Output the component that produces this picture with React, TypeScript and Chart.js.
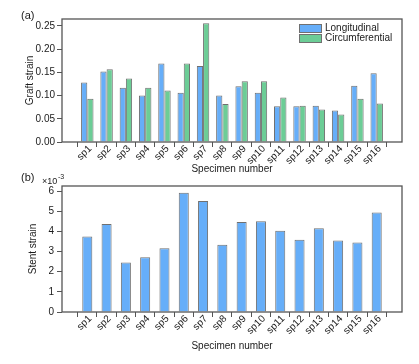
import React, { useEffect, useRef } from "react";
import { Chart, registerables } from "chart.js";

Chart.register(...registerables);

const categories = [
  "sp1", "sp2", "sp3", "sp4", "sp5", "sp6", "sp7", "sp8",
  "sp9", "sp10", "sp11", "sp12", "sp13", "sp14", "sp15", "sp16",
];
const graftLongitudinal = [
  0.128, 0.152, 0.117, 0.1, 0.169, 0.106, 0.164, 0.1,
  0.12, 0.106, 0.077, 0.077, 0.078, 0.068, 0.121, 0.148,
];
const graftCircumferential = [
  0.093, 0.157, 0.137, 0.117, 0.111, 0.169, 0.256, 0.082,
  0.131, 0.131, 0.096, 0.078, 0.07, 0.059, 0.093, 0.083,
];
// stent strain, in units of 10^-3
const stentStrain = [
  3.74, 4.36, 2.46, 2.71, 3.16, 5.92, 5.5, 3.34,
  4.46, 4.5, 4.03, 3.59, 4.15, 3.55, 3.45, 4.94,
];
const graftTicks = [0, 0.05, 0.1, 0.15, 0.2, 0.25];
const stentTicks = [0, 1, 2, 3, 4, 5, 6];
const seriesNames = ["Longitudinal", "Circumferential"];

const FONT = "'Liberation Sans', Arial, sans-serif";
const BLUE = "#66aef9";
const GREEN = "#6ccd96";
const EDGE = "#707070";
const AXIS = "#555555";
const TEXT = "#1a1a1a";

const font10 = { family: FONT, size: 10 };

const toPoints = (vals: number[]) => vals.map((v, i) => ({ x: i + 1, y: v }));

function framePlugin(id: string, extra: (ctx: CanvasRenderingContext2D, chart: any) => void) {
  return {
    id,
    afterDraw(chart: any) {
      const { ctx, chartArea } = chart;
      ctx.save();
      ctx.strokeStyle = AXIS;
      ctx.lineWidth = 1.3;
      ctx.strokeRect(
        chartArea.left,
        chartArea.top,
        chartArea.right - chartArea.left,
        chartArea.bottom - chartArea.top
      );
      extra(ctx, chart);
      ctx.restore();
    },
  };
}

function xScale(titlePadBottom: number, height: number) {
  return {
    type: "linear",
    min: 0.24,
    max: categories.length + 0.76,
    afterBuildTicks: (s: any) => {
      s.ticks = categories.map((_, i) => ({ value: i + 1 }));
    },
    grid: { drawOnChartArea: false, drawTicks: true, tickLength: 5, color: AXIS },
    border: { display: false },
    ticks: {
      minRotation: 45,
      maxRotation: 45,
      autoSkip: false,
      padding: -4,
      labelOffset: 3,
      font: font10,
      color: TEXT,
      callback: (v: any) => categories[Math.round(Number(v)) - 1] ?? "",
    },
    title: {
      display: true,
      text: "Specimen number",
      font: font10,
      color: TEXT,
      padding: { top: 0, bottom: titlePadBottom },
    },
    afterFit: (s: any) => {
      s.height = height;
    },
  };
}

export default function App() {
  const ref1 = useRef<HTMLCanvasElement>(null);
  const ref2 = useRef<HTMLCanvasElement>(null);

  useEffect(() => {
    const c1 = new Chart(ref1.current!, {
      type: "bar",
      data: {
        datasets: [
          {
            label: seriesNames[0],
            data: toPoints(graftLongitudinal),
            backgroundColor: BLUE,
            borderColor: EDGE,
            borderWidth: 1,
            categoryPercentage: 0.645,
            barPercentage: 1,
          },
          {
            label: seriesNames[1],
            data: toPoints(graftCircumferential),
            backgroundColor: GREEN,
            borderColor: EDGE,
            borderWidth: 1,
            categoryPercentage: 0.645,
            barPercentage: 1,
          },
        ],
      },
      options: {
        responsive: false,
        animation: false,
        layout: { padding: { top: 19, right: 17, left: 0, bottom: 186 } },
        plugins: { legend: { display: false }, tooltip: { enabled: false } },
        scales: {
          x: xScale(3, 36),
          y: {
            min: 0,
            max: 0.265,
            afterBuildTicks: (s: any) => {
              s.ticks = graftTicks.map((v) => ({ value: v }));
            },
            grid: { drawOnChartArea: false, drawTicks: true, tickLength: 5, color: AXIS },
            border: { display: false },
            ticks: { padding: 2, font: font10, color: TEXT, callback: (v: any) => Number(v).toFixed(2) },
            title: { display: true, text: "Graft strain", font: font10, color: TEXT, padding: { top: 24, bottom: 0 } },
            afterFit: (s: any) => {
              s.width = 62;
            },
          },
        },
      },
      plugins: [
        framePlugin("frameA", (ctx) => {
          ctx.fillStyle = TEXT;
          ctx.font = `11px ${FONT}`;
          ctx.textBaseline = "middle";
          ctx.textAlign = "left";
          ctx.fillText("(a)", 21, 16);
          const colors = [BLUE, GREEN];
          ctx.font = `10px ${FONT}`;
          seriesNames.forEach((name, i) => {
            const y = 24 + i * 10;
            ctx.fillStyle = colors[i];
            ctx.fillRect(299, y, 23, 9);
            ctx.strokeStyle = EDGE;
            ctx.lineWidth = 1;
            ctx.strokeRect(299.5, y + 0.5, 22, 8);
            ctx.fillStyle = TEXT;
            ctx.fillText(name, 325, y + 4.5);
          });
        }),
      ],
    } as any);

    const c2 = new Chart(ref2.current!, {
      type: "bar",
      data: {
        datasets: [
          {
            label: "Stent strain",
            data: toPoints(stentStrain),
            backgroundColor: BLUE,
            borderColor: EDGE,
            borderWidth: 1,
            categoryPercentage: 1,
            barPercentage: 0.52,
          },
        ],
      },
      options: {
        responsive: false,
        animation: false,
        layout: { padding: { top: 186, right: 17, left: 0, bottom: 8 } },
        plugins: { legend: { display: false }, tooltip: { enabled: false } },
        scales: {
          x: xScale(4, 44),
          y: {
            min: 0,
            max: 6.25,
            afterBuildTicks: (s: any) => {
              s.ticks = stentTicks.map((v) => ({ value: v }));
            },
            grid: { drawOnChartArea: false, drawTicks: true, tickLength: 5, color: AXIS },
            border: { display: false },
            ticks: { padding: 3, font: font10, color: TEXT, callback: (v: any) => String(v) },
            title: { display: true, text: "Stent strain", font: font10, color: TEXT, padding: { top: 27, bottom: 0 } },
            afterFit: (s: any) => {
              s.width = 62;
            },
          },
        },
      },
      plugins: [
        framePlugin("frameB", (ctx) => {
          ctx.fillStyle = TEXT;
          ctx.textBaseline = "middle";
          ctx.textAlign = "left";
          ctx.font = `11px ${FONT}`;
          ctx.fillText("(b)", 21, 178);
          ctx.textBaseline = "alphabetic";
          ctx.font = `9px ${FONT}`;
          ctx.fillText("×10", 42, 184);
          ctx.font = `7px ${FONT}`;
          ctx.fillText("-3", 58, 179);
        }),
      ],
    } as any);

    return () => {
      c1.destroy();
      c2.destroy();
    };
  }, []);

  const canvasStyle: React.CSSProperties = {
    position: "absolute",
    left: 0,
    top: 0,
    width: 419,
    height: 364,
  };

  return (
    <div style={{ position: "fixed", left: 0, top: 0, width: 419, height: 364, background: "#fff" }}>
      <canvas ref={ref1} width={419} height={364} style={canvasStyle} />
      <canvas ref={ref2} width={419} height={364} style={canvasStyle} />
    </div>
  );
}
